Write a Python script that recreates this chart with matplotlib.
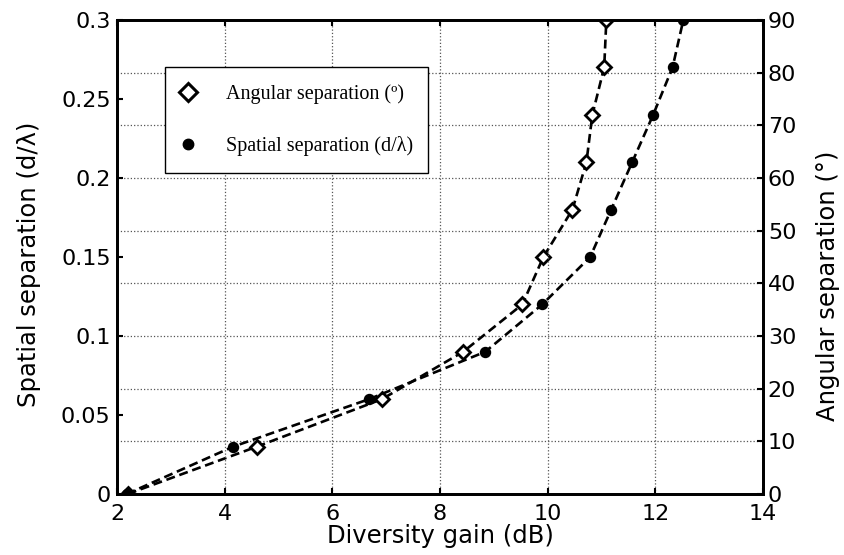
import matplotlib
matplotlib.use("Agg")
import matplotlib.pyplot as plt
from matplotlib.lines import Line2D

# Diversity gain (dB) versus required antenna separation
spatial_sep = [0.0, 0.03, 0.06, 0.09, 0.12, 0.15, 0.18, 0.21, 0.24, 0.27, 0.30]
gain_spatial = [2.18, 4.16, 6.68, 8.84, 9.90, 10.79, 11.18, 11.57, 11.96, 12.32, 12.52]

angular_sep = [0, 9, 18, 27, 36, 45, 54, 63, 72, 81, 90]
gain_angular = [2.20, 4.60, 6.92, 8.43, 9.53, 9.92, 10.46, 10.72, 10.83, 11.05, 11.09]

x_ticks = [2, 4, 6, 8, 10, 12, 14]
left_ticks = [0, 0.05, 0.1, 0.15, 0.2, 0.25, 0.3]
left_labels = ["0", "0.05", "0.1", "0.15", "0.2", "0.25", "0.3"]
right_ticks = [0, 10, 20, 30, 40, 50, 60, 70, 80, 90]

plt.rcParams["font.family"] = ["DejaVu Sans"]

fig = plt.figure(figsize=(8.44, 5.55), dpi=100)
ax = fig.add_axes([117 / 844, 61 / 555, 646 / 844, 474 / 555])
ax2 = ax.twinx()

# left axis on top so its legend and series stay above the right-axis grid
ax.set_zorder(ax2.get_zorder() + 1)
ax.patch.set_visible(False)

dash = (3.4, 1.8)
ax2.plot(gain_angular, angular_sep, color="black", lw=1.9, dashes=dash,
         marker="D", ms=7.6, mfc="white", mec="black", mew=2.0, zorder=3)
ax.plot(gain_spatial, spatial_sep, color="black", lw=1.9, dashes=dash,
        marker="o", ms=7.2, mfc="black", mec="black", zorder=3)

ax.set_xlim(2, 14)
ax.set_ylim(0, 0.3)
ax2.set_ylim(0, 90)

ax.set_xticks(x_ticks)
ax.set_xticklabels([str(t) for t in x_ticks])
ax.set_yticks(left_ticks)
ax.set_yticklabels(left_labels)
ax2.set_yticks(right_ticks)
ax2.set_yticklabels([str(t) for t in right_ticks])

grid_kw = dict(color="#555555", linestyle=":", linewidth=0.9)
ax.grid(True, axis="x", **grid_kw)
ax2.grid(True, axis="y", **grid_kw)
ax.set_axisbelow(True)
ax2.set_axisbelow(True)

ax.tick_params(axis="x", direction="in", length=4.5, width=1.5, labelsize=16,
               pad=7.5, top=True, bottom=True)
ax.tick_params(axis="y", direction="in", length=4.5, width=1.5, labelsize=16,
               pad=4.5, left=True, right=False)
ax2.tick_params(axis="y", direction="in", length=4.5, width=1.5, labelsize=16,
                pad=3.5, right=True, left=False)

for a in (ax, ax2):
    for s in a.spines.values():
        s.set_linewidth(2.0)
        s.set_color("black")

ax.set_xlabel("Diversity gain (dB)", fontsize=17.5)
ax.xaxis.set_label_coords(0.5, -0.063)
ax.set_ylabel("Spatial separation (d/\u03bb)", fontsize=17.5)
ax.yaxis.set_label_coords(-0.1176, 0.485)
ax2.set_ylabel("Angular separation (\u00b0)", fontsize=17.5)
ax2.yaxis.set_label_coords(1.082, 0.439)

handles = [
    Line2D([], [], linestyle="None", marker="D", ms=9.0, mfc="white",
           mec="black", mew=2.2),
    Line2D([], [], linestyle="None", marker="o", ms=7.5, mfc="black",
           mec="black"),
]
labels = ["Angular separation (\u00ba)", "Spatial separation (d/\u03bb)"]
lx = (165 - 117) / 646
ltop = (494 - 67) / 474
lw_ = (428 - 165) / 646
lh = (183 - 67) / 474
leg = ax.legend(handles, labels, loc="upper left",
                bbox_to_anchor=(lx, ltop - lh, lw_, lh), mode="expand",
                borderaxespad=0, prop={"family": "Liberation Serif", "size": 14.5},
                frameon=True, fancybox=False, framealpha=1, edgecolor="black",
                borderpad=0.85, handlelength=0.6, handletextpad=1.6,
                labelspacing=1.6)
leg.get_frame().set_linewidth(1.0)

fig.savefig("out.png", dpi=100)
